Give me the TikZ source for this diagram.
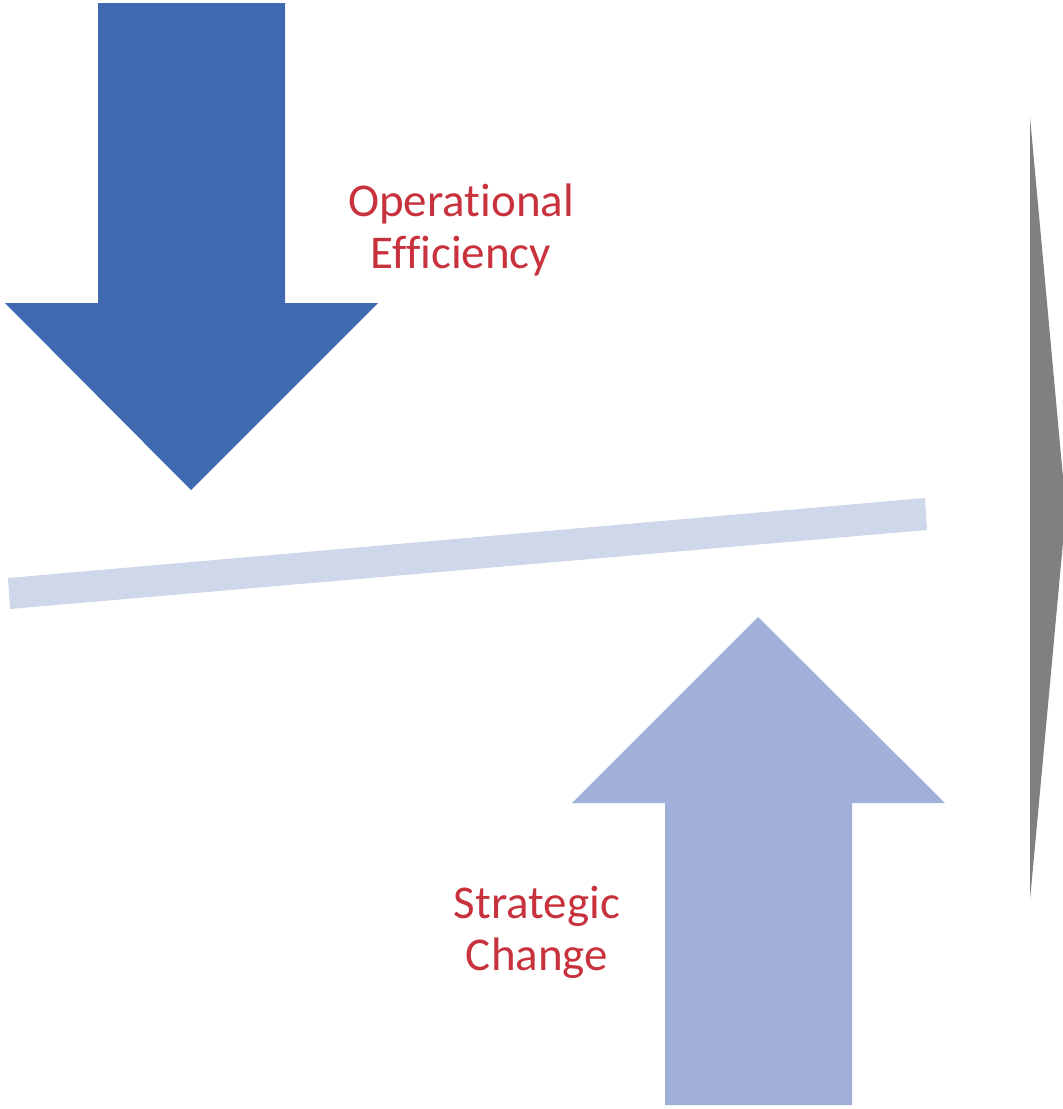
\documentclass[tikz,border=0pt]{standalone}
\usepackage{fontspec}
\setmainfont{Carlito}[Ligatures=NoCommon]
\definecolor{darkblue}{RGB}{63,105,176}
\definecolor{lightblue}{RGB}{160,176,216}
\definecolor{barblue}{RGB}{207,215,234}
\definecolor{textred}{RGB}{200,50,60}
\definecolor{triangray}{RGB}{128,128,128}
\begin{document}
\begin{tikzpicture}[x=1pt,y=-1pt,
  lbl/.style={text=textred,font=\fontsize{47}{52}\selectfont,align=center,inner sep=0pt}]
\useasboundingbox (0,0) rectangle (1063,1109);
\clip (0,0) rectangle (1063,1109);
% top arrow
\fill[darkblue] (98,3) -- (285,3) -- (285,303) -- (378,303) -- (191,490) -- (5,303) -- (98,303) -- cycle;
% bar
\fill[barblue] (8,578) -- (925,498) -- (927,530) -- (10,609) -- cycle;
% bottom arrow
\fill[lightblue] (758,617) -- (945,803) -- (852,803) -- (852,1105) -- (665,1105) -- (665,803) -- (572,803) -- cycle;
% gray triangle
\fill[triangray] (1030,117) -- (1066,510) -- (1030,900) -- cycle;
% labels
\node[lbl] (op) at (461,230) {Operational\\Efficiency};
\node[lbl] (sc) at (537,932) {Strategic\\Change};
\end{tikzpicture}
\end{document}
